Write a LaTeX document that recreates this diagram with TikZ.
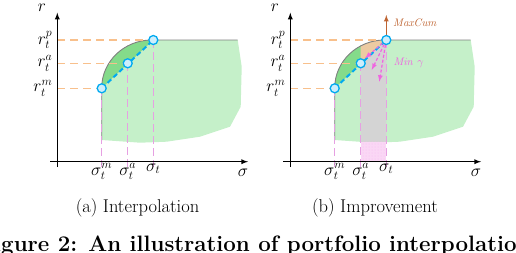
\documentclass[tikz,border=0pt]{standalone}
\usepackage{amsmath, amssymb}
\usepackage{xcolor}
\usepackage{tikz}
\usetikzlibrary{patterns}
\definecolor{paleregion}{RGB}{197, 240, 201}
\definecolor{lensregion}{RGB}{132, 219, 138}
\definecolor{tanregion}{RGB}{236, 202, 162}
\definecolor{grayregion}{RGB}{212, 212, 212}
\definecolor{pinkregion}{RGB}{250, 215, 245}
\definecolor{retline}{RGB}{248, 192, 140}
\definecolor{sigline}{RGB}{230, 160, 226}
\definecolor{chordblue}{RGB}{0, 170, 240}
\definecolor{dotfill}{RGB}{205, 238, 252}
\definecolor{cumbrown}{RGB}{190, 100, 50}
\definecolor{gammapink}{RGB}{240, 100, 225}

\tikzset{
	axis/.style={line width=1.3pt, -latex},
	frontier/.style={gray, line width=0.9pt},
	retdash/.style={retline, line width=1.6pt, dash pattern=on 8pt off 5pt},
	sigdash/.style={sigline, line width=1.5pt, dash pattern=on 8pt off 4pt},
	chord/.style={chordblue, line width=2pt, dash pattern=on 5pt off 3pt},
	pt/.style={circle, draw=chordblue, fill=dotfill, line width=1.3pt, inner sep=0pt, minimum size=9pt},
	lbl/.style={font=\fontsize{17}{20}\selectfont, inner sep=0pt},
	caplbl/.style={font=\fontsize{18.5}{22}\selectfont, inner sep=0pt},
	tinylbl/.style={font=\fontsize{11}{13}\selectfont, inner sep=0pt},
	gammaarrow/.style={gammapink, line width=1.2pt, dash pattern=on 3pt off 2pt, -latex},
}

\begin{document}
\begin{tikzpicture}[x=1pt, y=-1pt]
		\useasboundingbox (0,0) rectangle (516,252);
		\clip (0,0) rectangle (516,252);
		
		% (a) interpolation
		\begin{scope}
		\coordinate (oa) at (57.3,161.7);
		\coordinate (ba) at (57.3,167);
		\coordinate (ma) at (101.7,88.3);
		\coordinate (aa) at (127.7,63.3);
		\coordinate (pa) at (153.3,40);
		\fill[paleregion] (101.7,140) -- (101.7,88) .. controls (101.7,61.5) and (124.1,40) .. (151.7,40) -- (237.7,40)
			-- (241.7,66.7) -- (240.7,106.7) -- (230,126.7) -- (200,136.7) -- (166.7,141.7) -- (140,142.7) -- cycle;
		\fill[lensregion] (101.7,88) .. controls (101.7,61.5) and (124.1,40) .. (151.7,40) -- (pa) -- cycle;
		\draw[frontier] (101.7,140) -- (101.7,88) .. controls (101.7,61.5) and (124.1,40) .. (151.7,40) -- (237.7,40);
		\draw[retdash] (pa -| oa) -- (pa);
		\draw[retdash] (aa -| oa) -- (aa);
		\draw[retdash] (ma -| oa) -- (ma);
		\draw[sigdash] (ma) -- (ma |- ba);
		\draw[sigdash] (aa) -- (aa |- ba);
		\draw[sigdash] (pa) -- (pa |- ba);
		\draw[axis] (57.3,167) -- (57.3,12.7);
		\draw[axis] (50,161.7) -- (248,161.7);
		\draw[chord] (ma) -- (pa);
		\node[pt] (dotma) at (ma) {};
		\node[pt] (dotaa) at (aa) {};
		\node[pt] (dotpa) at (pa) {};
		\node[lbl] (ra) at (42,7.5) {$r$};
		\node[lbl] (sa) at (243,173) {$\sigma$};
		\node[lbl, anchor=east] (rpa) at (52.5,40) {$r_t^p$};
		\node[lbl, anchor=east] (raa) at (52.5,63.3) {$r_t^a$};
		\node[lbl, anchor=east] (rma) at (52.5,88.3) {$r_t^m$};
		\node[lbl, anchor=north] (sma) at (101.7,163.5) {$\sigma_t^m$};
		\node[lbl, anchor=north] (saa) at (127.7,163.5) {$\sigma_t^a$};
		\node[lbl, anchor=north] (spa) at (153.3,163.5) {$\sigma_t$};
		\end{scope}
		
		% (b) improvement
		\begin{scope}[xshift=233pt]
		\coordinate (ob) at (57.3,161.7);
		\coordinate (bb) at (57.3,167);
		\coordinate (mb) at (101.7,88.3);
		\coordinate (ab) at (127.7,63.3);
		\coordinate (pb) at (153.3,40);
		\coordinate (cumb) at (153.3,15);
		\coordinate (g1) at (132,58.3);
		\coordinate (g2) at (138.7,70);
		\coordinate (g3) at (146.3,81.7);
		\fill[paleregion] (101.7,140) -- (101.7,88) .. controls (101.7,61.5) and (124.1,40) .. (151.7,40) -- (237.7,40)
			-- (241.7,66.7) -- (240.7,106.7) -- (230,126.7) -- (200,136.7) -- (166.7,141.7) -- (140,142.7) -- cycle;
		\fill[lensregion] (101.7,88) .. controls (101.7,61.5) and (124.1,40) .. (151.7,40) -- (pb) -- cycle;
		\begin{scope}
			\clip (127.7,0) rectangle (153.3,100);
			\fill[tanregion] (101.7,88) .. controls (101.7,61.5) and (124.1,40) .. (151.7,40) -- (pb) -- cycle;
		\end{scope}
		\fill[grayregion] (ab) -- (pb) -- (153.3,142.2) -- (127.7,141.8) -- cycle;
		\fill[pinkregion] (127.7,141.8) rectangle (153.3,161.7);
		\fill[pattern=dots, pattern color=gammapink!45] (127.7,141.8) rectangle (153.3,161.7);
		\draw[frontier] (101.7,140) -- (101.7,88) .. controls (101.7,61.5) and (124.1,40) .. (151.7,40) -- (237.7,40);
		\draw[retdash] (pb -| ob) -- (pb);
		\draw[retdash] (ab -| ob) -- (ab);
		\draw[retdash] (mb -| ob) -- (mb);
		\draw[sigdash] (mb) -- (mb |- bb);
		\draw[sigdash] (ab) -- (ab |- bb);
		\draw[sigdash] (pb) -- (pb |- bb);
		\draw[axis] (57.3,167) -- (57.3,12.7);
		\draw[axis] (50,161.7) -- (248,161.7);
		\draw[chord] (mb) -- (pb);
		\draw[gammaarrow] (pb) -- (g1);
		\draw[gammaarrow] (pb) -- (g2);
		\draw[gammaarrow] (pb) -- (g3);
		\draw[cumbrown, line width=1.2pt, -latex] (pb) -- (cumb);
		\node[pt] (dotmb) at (mb) {};
		\node[pt] (dotab) at (ab) {};
		\node[pt] (dotpb) at (pb) {};
		\node[tinylbl, anchor=west, text=cumbrown] (cuml) at (160,22.7) {$\mathit{MaxCum}$};
		\node[tinylbl, anchor=west, text=gammapink] (gaml) at (160.3,62.7) {$\mathit{Min}\ \gamma$};
		\node[lbl] (rb) at (42,7.5) {$r$};
		\node[lbl] (sb) at (243,173) {$\sigma$};
		\node[lbl, anchor=east] (rpb) at (52.5,40) {$r_t^p$};
		\node[lbl, anchor=east] (rab) at (52.5,63.3) {$r_t^a$};
		\node[lbl, anchor=east] (rmb) at (52.5,88.3) {$r_t^m$};
		\node[lbl, anchor=north] (smb) at (101.7,163.5) {$\sigma_t^m$};
		\node[lbl, anchor=north] (sab) at (127.7,163.5) {$\sigma_t^a$};
		\node[lbl, anchor=north] (spb) at (153.3,163.5) {$\sigma_t$};
		\end{scope}
		
		% captions
		\node[caplbl] (capa) at (137.5,207.5) {(a) Interpolation};
		\node[caplbl] (capb) at (375,207.5) {(b) Improvement};
		\node[inner sep=0pt, anchor=base west, font=\fontsize{22.3}{25}\selectfont\bfseries] (fig) at (1,251.5)
			{\llap{Fi}gure 2: An illustration of portfolio interpolatio\rlap{n}};
	\end{tikzpicture}
\end{document}
